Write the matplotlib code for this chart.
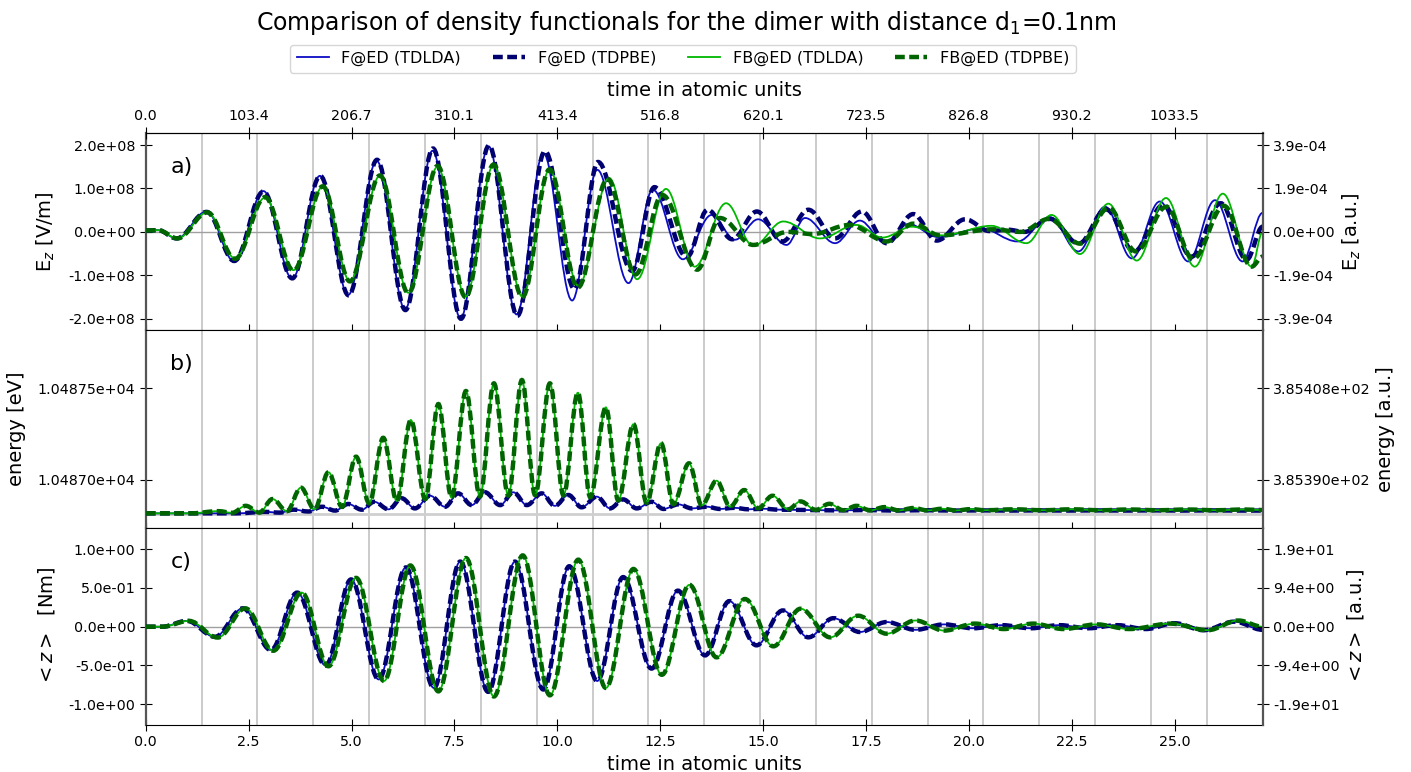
import matplotlib
matplotlib.use('Agg')
import matplotlib.pyplot as plt
import numpy as np
from matplotlib.path import Path
from matplotlib.patches import PathPatch
from matplotlib.lines import Line2D
from matplotlib.ticker import FormatStrFormatter

# unit conversions
AU_TIME_PER_FS = 41.3414
AU_FIELD = 5.14220674763e11      # V/m per a.u.
HARTREE_EV = 27.2114
BOHR_PER_NM = 18.8972613
LASER_PERIOD = 1.357             # fs, grey marker lines

# ---- panel a: field E_z, extrema (time in fs, value in 1e8 V/m) ----
ta_f_lda = [0.0, 0.3, 0.75, 1.48, 2.15, 2.86, 3.56, 4.23, 4.92, 5.61, 6.30, 6.97, 7.65, 8.33,
            9.01, 9.66, 10.36, 10.97, 11.73, 12.32, 13.05, 13.75, 14.32, 14.88, 15.57, 16.02,
            16.75, 17.35, 17.96, 18.53, 19.26, 20.3, 21.18, 21.97, 22.66, 23.31, 23.96, 24.64,
            25.33, 25.98, 26.65, 27.14]
ea_f_lda = [0.03, 0.04, -0.15, 0.47, -0.68, 0.94, -1.08, 1.29, -1.45, 1.64, -1.78, 1.87, -1.99,
            1.97, -1.90, 1.81, -1.58, 1.43, -1.18, 0.97, -0.63, 0.39, -0.18, 0.29, -0.30, 0.32,
            -0.26, 0.26, -0.25, 0.18, -0.12, 0.08, -0.22, 0.34, -0.45, 0.58, -0.61, 0.70, -0.68,
            0.73, -0.68, 0.44]

ta_f_pbe = [0.0, 0.3, 0.75, 1.48, 2.15, 2.86, 3.56, 4.24, 4.93, 5.62, 6.31, 6.98, 7.66, 8.34,
            9.03, 9.70, 10.42, 10.99, 11.82, 12.36, 13.15, 13.65, 14.25, 14.85, 15.47, 16.1,
            16.75, 17.40, 18.0, 18.65, 19.22, 19.91, 20.5, 20.95, 21.35, 21.97, 22.67, 23.33,
            24.02, 24.72, 25.41, 26.12, 26.75, 27.14]
ea_f_pbe = [0.03, 0.04, -0.15, 0.46, -0.67, 0.93, -1.07, 1.29, -1.46, 1.66, -1.80, 1.92, -2.0,
            1.99, -1.93, 1.86, -1.32, 1.61, -0.90, 1.03, -0.58, 0.51, -0.17, 0.47, -0.22, 0.51,
            -0.15, 0.47, -0.26, 0.41, -0.20, 0.29, 0.02, 0.05, 0.0, 0.30, -0.27, 0.52, -0.45,
            0.62, -0.57, 0.66, -0.64, 0.12]

ta_fb_lda = [0.0, 0.3, 0.77, 1.50, 2.17, 2.90, 3.59, 4.30, 4.96, 5.69, 6.38, 7.09, 7.77, 8.45,
             9.15, 9.81, 10.51, 11.26, 11.94, 12.64, 13.34, 14.10, 14.76, 15.49, 16.38, 17.27,
             17.90, 18.62, 19.35, 20.55, 21.40, 22.01, 22.70, 23.39, 24.08, 24.79, 25.49, 26.17,
             26.87, 27.14]
ea_fb_lda = [0.03, 0.04, -0.15, 0.45, -0.61, 0.79, -0.88, 1.04, -1.13, 1.29, -1.40, 1.50, -1.49,
             1.54, -1.49, 1.43, -1.24, 1.24, -1.09, 0.99, -0.80, 0.66, -0.32, 0.24, -0.15, 0.16,
             -0.13, 0.12, -0.08, 0.14, -0.26, 0.39, -0.51, 0.65, -0.66, 0.78, -0.80, 0.88, -0.80,
             0.0]

ta_fb_pbe = [0.0, 0.3, 0.77, 1.50, 2.17, 2.90, 3.59, 4.30, 4.96, 5.69, 6.38, 7.09, 7.77, 8.45,
             9.15, 9.81, 10.50, 11.22, 11.90, 12.55, 13.40, 13.95, 14.76, 15.6, 16.2, 17.1, 18.0,
             18.65, 19.3, 20.6, 21.25, 21.95, 22.70, 23.40, 24.06, 24.80, 25.45, 26.20, 26.87,
             27.14]
ea_fb_pbe = [0.03, 0.04, -0.15, 0.45, -0.62, 0.80, -0.89, 1.05, -1.14, 1.30, -1.41, 1.52, -1.50,
             1.55, -1.50, 1.44, -1.28, 1.22, -0.98, 0.85, -0.87, 0.32, -0.30, 0.0, -0.05, 0.16,
             -0.22, 0.19, -0.08, 0.06, 0.0, 0.30, -0.27, 0.55, -0.45, 0.58, -0.62, 0.60, -0.80,
             -0.57]

# ---- panel b: total energy, ground state + excess in meV ----
E0_EV = 10486.818
tb_f = [0.0, 2.2, 2.9, 3.25, 3.6, 3.95, 4.28, 4.6, 4.92, 5.25, 5.55, 5.9, 6.22, 6.54, 6.91, 7.27,
        7.59, 7.92, 8.24, 8.61, 8.93, 9.26, 9.62, 9.94, 10.27, 10.59, 10.96, 11.28, 11.6, 11.93,
        12.29, 12.58, 12.94, 13.27, 13.63, 13.95, 14.3, 14.65, 15.0, 15.4, 16.1, 16.8, 17.5,
        18.2, 18.9, 19.6, 20.3, 21.0, 21.7, 22.4, 23.1, 23.8, 24.5, 25.2, 25.9, 26.6, 27.14]
eb_f_mev = [0, 0, 8, 4, 20, 10, 36, 15, 51, 20, 63, 22, 82, 27, 96, 36, 109, 45, 115, 45, 115, 45,
            109, 41, 100, 33, 91, 27, 76, 27, 63, 24, 49, 27, 36, 24, 30, 22, 25, 20, 18, 16, 18,
            15, 17, 15, 16, 15, 16, 15, 16, 15, 16, 15, 16, 15, 15]

tb_fb = [0.0, 1.1, 1.76, 2.1, 2.43, 2.76, 3.08, 3.43, 3.77, 4.1, 4.44, 4.77, 5.11, 5.43, 5.77,
         6.1, 6.44, 6.79, 7.11, 7.43, 7.78, 8.12, 8.46, 8.81, 9.14, 9.46, 9.82, 10.15, 10.5, 10.8,
         11.18, 11.48, 11.85, 12.17, 12.52, 12.82, 13.2, 13.51, 13.87, 14.2, 14.54, 14.88, 15.23,
         15.61, 15.91, 16.28, 16.61, 16.95, 17.27, 17.6, 17.95, 18.3, 18.65, 19.0, 19.35, 19.7,
         20.05, 20.4, 21.1, 21.8, 22.5, 23.2, 23.9, 24.6, 25.3, 26.0, 26.7, 27.14]
eb_fb_mev = [0, 0, 12, 3, 41, 4, 78, 12, 140, 22, 224, 35, 309, 55, 412, 68, 509, 78, 596, 86,
             667, 92, 709, 97, 727, 100, 709, 98, 658, 88, 578, 70, 486, 58, 382, 50, 273, 44,
             178, 36, 127, 28, 96, 22, 65, 19, 52, 17, 41, 16, 34, 16, 29, 16, 25, 16, 23, 17, 22,
             17, 22, 17, 21, 17, 21, 17, 21, 18]

# ---- panel c: dipole <z> in nm ----
tc_f = [0.0, 0.4, 1.0, 1.68, 2.36, 3.04, 3.68, 4.37, 4.99, 5.66, 6.32, 7.0, 7.64, 8.32, 8.97,
        9.66, 10.29, 10.97, 11.6, 12.29, 12.93, 13.59, 14.18, 14.84, 15.48, 16.1, 16.71, 17.35,
        18.0, 18.7, 19.4, 20.1, 20.8, 21.5, 22.2, 22.9, 23.6, 24.3, 25.0, 25.7, 26.45, 27.14]
zc_f = [0.0, 0.0, 0.075, -0.13, 0.237, -0.30, 0.44, -0.50, 0.61, -0.68, 0.765, -0.79, 0.84, -0.84,
        0.84, -0.81, 0.78, -0.70, 0.64, -0.54, 0.465, -0.37, 0.33, -0.24, 0.21, -0.137, 0.11,
        -0.068, 0.06, -0.04, 0.03, -0.02, 0.02, -0.02, 0.02, -0.02, 0.02, -0.03, 0.045, -0.045,
        0.065, -0.04]

tc_fb = [0.0, 0.4, 1.05, 1.75, 2.42, 3.1, 3.79, 4.44, 5.11, 5.79, 6.43, 7.11, 7.78, 8.46, 9.16,
         9.82, 10.51, 11.18, 11.85, 12.54, 13.21, 13.87, 14.56, 15.25, 15.91, 16.63, 17.31, 18.0,
         18.7, 19.4, 20.15, 20.85, 21.56, 22.3, 23.1, 23.9, 24.9, 25.8, 26.55, 27.14]
zc_fb = [0.0, 0.0, 0.075, -0.14, 0.237, -0.31, 0.44, -0.51, 0.63, -0.70, 0.79, -0.834, 0.886,
         -0.90, 0.92, -0.885, 0.865, -0.79, 0.745, -0.62, 0.54, -0.395, 0.357, -0.253, 0.232,
         -0.137, 0.142, -0.09, 0.08, -0.05, 0.04, -0.03, 0.04, -0.03, 0.03, -0.03, 0.04, -0.045,
         0.08, 0.0]

labels = ['F@ED (TDLDA)', 'F@ED (TDPBE)', 'FB@ED (TDLDA)', 'FB@ED (TDPBE)']
styles = [dict(color='#0c0cc4', lw=1.3, ls='-'),
          dict(color='#000070', lw=3.2, ls=(0, (2.2, 1.0))),
          dict(color='#00b800', lw=1.3, ls='-'),
          dict(color='#006400', lw=3.2, ls=(0, (2.2, 1.0)))]

T_MAX = 27.14
x_ticks = np.arange(0, 25.1, 2.5)
TICK_FS = 10.3


def extrema_path(t, y, k=0.3634):
    # smooth curve through the turning points (flat tangent at each one)
    verts = [(t[0], y[0])]
    codes = [Path.MOVETO]
    for i in range(len(t) - 1):
        d = (t[i + 1] - t[i]) * k
        verts += [(t[i] + d, y[i]), (t[i + 1] - d, y[i + 1]), (t[i + 1], y[i + 1])]
        codes += [Path.CURVE4] * 3
    return Path(verts, codes)


def draw(ax, t, y, st, z):
    ax.add_patch(PathPatch(extrema_path(t, y), fill=False, edgecolor=st['color'],
                           linewidth=st['lw'], linestyle=st['ls'], zorder=z))


def right_axis(ax, ticks, factor, fmt, label):
    r = ax.twinx()
    lo, hi = ax.get_ylim()
    r.set_ylim(lo * factor, hi * factor)
    r.set_yticks([v * factor for v in ticks])
    r.yaxis.set_major_formatter(FormatStrFormatter(fmt))
    r.set_ylabel(label, fontsize=14)
    r.tick_params(direction='inout', length=8, labelsize=TICK_FS)
    for s in ['left', 'top', 'bottom']:
        r.spines[s].set_visible(False)
    r.spines['right'].set_color('#555555')
    r.spines['right'].set_linewidth(1.6)
    return r


fig = plt.figure(figsize=(14.11, 7.72), dpi=100)
L, W = 0.1033, 0.7916
ax_a = fig.add_axes([L, 0.5725, W, 0.2548])
ax_b = fig.add_axes([L, 0.3157, W, 0.2568], sharex=ax_a)
ax_c = fig.add_axes([L, 0.0609, W, 0.2548], sharex=ax_a)

# panel a
for i, (t, y) in enumerate([(ta_f_lda, ea_f_lda), (ta_f_pbe, ea_f_pbe),
                            (ta_fb_lda, ea_fb_lda), (ta_fb_pbe, ea_fb_pbe)]):
    draw(ax_a, t, [v * 1e8 for v in y], styles[i], 3 + i)
ax_a.set_ylim(-2.26e8, 2.27e8)
a_ticks = [-2e8, -1e8, 0, 1e8, 2e8]
ax_a.set_yticks(a_ticks)
ax_a.yaxis.set_major_formatter(FormatStrFormatter('%.1e'))
ax_a.set_ylabel('E$_z$ [V/m]', fontsize=14, labelpad=8)
ax_a.axhline(0, color='#a0a0a0', lw=1.0, zorder=1)

# panel b
e_f = [E0_EV + v / 1000 for v in eb_f_mev]
e_fb = [E0_EV + v / 1000 for v in eb_fb_mev]
for i, (t, y) in enumerate([(tb_f, e_f), (tb_f, e_f), (tb_fb, e_fb), (tb_fb, e_fb)]):
    draw(ax_b, t, y, styles[i], 3 + i)
ax_b.set_ylim(10486.7365, 10487.818)
b_ticks = [10487.0, 10487.5]
ax_b.set_yticks(b_ticks)
ax_b.yaxis.set_major_formatter(FormatStrFormatter('%.5e'))
ax_b.set_ylabel('energy [eV]', fontsize=14, labelpad=8)
ax_b.axhline(E0_EV - 0.006, color='#cfcfcf', lw=2.0, zorder=1)

# panel c
for i, (t, y) in enumerate([(tc_f, zc_f), (tc_f, zc_f), (tc_fb, zc_fb), (tc_fb, zc_fb)]):
    draw(ax_c, t, y, styles[i], 3 + i)
ax_c.set_ylim(-1.268, 1.27)
c_ticks = [-1.0, -0.5, 0.0, 0.5, 1.0]
ax_c.set_yticks(c_ticks)
ax_c.yaxis.set_major_formatter(FormatStrFormatter('%.1e'))
ax_c.set_ylabel('$<z>$  [Nm]', fontsize=14, labelpad=8)
ax_c.axhline(0, color='#a0a0a0', lw=1.0, zorder=1)

for ax, lab in zip([ax_a, ax_b, ax_c], ['a)', 'b)', 'c)']):
    ax.set_xlim(0, T_MAX)
    ax.set_xticks(x_ticks)
    ax.xaxis.set_major_formatter(FormatStrFormatter('%.1f'))
    ax.tick_params(direction='inout', length=8, labelsize=TICK_FS)
    for k in range(1, 20):
        ax.axvline(k * LASER_PERIOD, color='#bdbdbd', lw=1.1, zorder=0.5)
    ax.spines['left'].set_color('#555555')
    ax.spines['left'].set_linewidth(1.6)
    ax.spines['right'].set_visible(False)
    ax.text(0.022, 0.83, lab, transform=ax.transAxes, fontsize=16, va='center')
ax_a.tick_params(labelbottom=False)
ax_b.tick_params(labelbottom=False)
ax_c.set_xlabel('time in atomic units', fontsize=14)

right_axis(ax_a, a_ticks, 1 / AU_FIELD, '%.1e', 'E$_z$ [a.u.]')
right_axis(ax_b, b_ticks, 1 / HARTREE_EV, '%.5e', 'energy [a.u.]')
right_axis(ax_c, c_ticks, BOHR_PER_NM, '%.1e', '$<z>$ [a.u.]')

# top axis in atomic units of time
top = ax_a.twiny()
top.set_xlim(0, T_MAX)
top.set_xticks(x_ticks)
top.set_xticklabels(['%.1f' % (t * AU_TIME_PER_FS) for t in x_ticks])
top.tick_params(direction='inout', length=8, labelsize=TICK_FS)
top.set_xlabel('time in atomic units', fontsize=14, labelpad=9)
for s in ['left', 'right', 'bottom']:
    top.spines[s].set_visible(False)

handles = [Line2D([], [], color=s['color'], lw=s['lw'], ls=s['ls']) for s in styles]
fig.legend(handles, labels, loc='center', bbox_to_anchor=(0.484, 0.924), ncol=4, fontsize=11.5)
fig.text(0.486, 0.97, 'Comparison of density functionals for the dimer with distance d$_1$=0.1nm',
         ha='center', va='center', fontsize=17)

fig.savefig('out.png', dpi=100)
